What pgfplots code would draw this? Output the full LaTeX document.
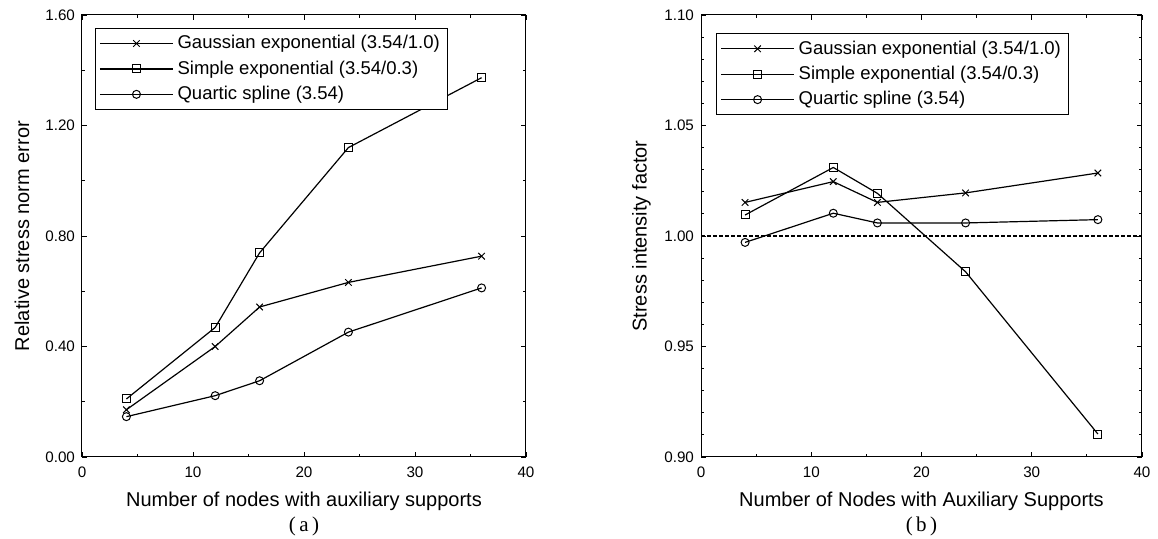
\documentclass[border=0pt]{standalone}
\usepackage{fontspec}
\setmainfont{Liberation Sans}
\newfontfamily\capfont{Liberation Serif}
\usepackage{pgfplots}
\pgfplotsset{compat=1.18}

% shared look of both panels
\pgfplotsset{
  panel/.style={
    scale only axis,
    clip=false,
    height=221pt,
    xmin=0, xmax=40,
    xtick={0,10,20,30,40},
    minor x tick num=1,
    tick align=inside,
    major tick length=2.5pt,
    minor tick length=1.5pt,
    axis line style={line width=0.5pt},
    every tick/.style={black, line width=0.4pt},
    tick label style={font=\fontsize{7.6}{9}\selectfont},
    xticklabel style={yshift=-1.5pt},
    /pgf/number format/assume math mode=true,
    label style={font=\fontsize{8.6}{10.5}\selectfont},
    every axis x label/.style={at={(axis description cs:0.5,-0.1)},anchor=center},
    every axis y label/.style={at={(axis description cs:-0.135,0.5)},rotate=90,anchor=center},
    legend cell align=left,
    legend style={anchor=north west, draw=black, line width=0.5pt,
      font=\fontsize{9.25}{11}\selectfont, inner xsep=2pt, inner ysep=1.5pt, row sep=0.5pt},
    legend image code/.code={\draw[mark repeat=2,mark phase=2]
      plot coordinates {(0pt,0pt) (18.25pt,0pt) (36.5pt,0pt)};},
    every axis plot/.append style={black, line width=0.6pt,
      mark options={solid, line width=0.5pt, fill=white}},
  },
  gauss/.style={mark=x, mark size=2.3pt},
  simple/.style={mark=square, mark size=2pt},
  quartic/.style={mark=o, mark size=2pt},
}

\begin{document}
\begin{tikzpicture}

% (a) relative stress norm error
\begin{axis}[
  panel,
  width=222pt,
  ymin=0, ymax=1.6,
  ytick={0,0.4,0.8,1.2,1.6},
  minor y tick num=1,
  yticklabel style={/pgf/number format/.cd, fixed, fixed zerofill, precision=2},
  xlabel={Number of nodes with auxiliary supports},
  ylabel={Relative stress norm error},
  legend style={at={(axis description cs:0.029,0.971)}},
]
\addplot[gauss] coordinates {(4,0.171) (12,0.40) (16,0.543) (24,0.632) (36,0.727)};
\addplot[simple] coordinates {(4,0.21) (12,0.469) (16,0.739) (24,1.12) (36,1.373)};
\addplot[quartic] coordinates {(4,0.146) (12,0.222) (16,0.276) (24,0.452) (36,0.612)};
\legend{Gaussian exponential (3.54/1.0), Simple exponential (3.54/0.3), Quartic spline (3.54)}
\node[font=\capfont\fontsize{10.5}{12}\selectfont] at (axis description cs:0.5,-0.157) {(\,a\,)};
\end{axis}

% (b) stress intensity factor
\begin{axis}[
  panel,
  at={(309.5pt,0pt)}, anchor=south west,
  width=220.5pt,
  ymin=0.9, ymax=1.1,
  ytick={0.9,0.95,1,1.05,1.1},
  minor y tick num=4,
  yticklabel style={/pgf/number format/.cd, fixed, fixed zerofill, precision=2},
  xlabel={Number of Nodes with Auxiliary Supports},
  ylabel={Stress intensity factor},
  legend style={at={(axis description cs:0.034,0.959)}},
]
\addplot[forget plot, dash pattern=on 2pt off 1pt, line width=0.7pt] coordinates {(0,1) (40,1)};
\addplot[gauss] coordinates {(4,1.0152) (12,1.0246) (16,1.0152) (24,1.0195) (36,1.0285)};
\addplot[simple] coordinates {(4,1.0095) (12,1.031) (16,1.0193) (24,0.9838) (36,0.9104)};
\addplot[quartic] coordinates {(4,0.9971) (12,1.0103) (16,1.0059) (24,1.0059) (36,1.0074)};
\legend{Gaussian exponential (3.54/1.0), Simple exponential (3.54/0.3), Quartic spline (3.54)}
\node[font=\capfont\fontsize{10.5}{12}\selectfont] at (axis description cs:0.5,-0.157) {(\,b\,)};
\end{axis}

\pgfresetboundingbox
\useasboundingbox (-41pt,-41pt) rectangle (538pt,228.5pt);
\end{tikzpicture}
\end{document}
